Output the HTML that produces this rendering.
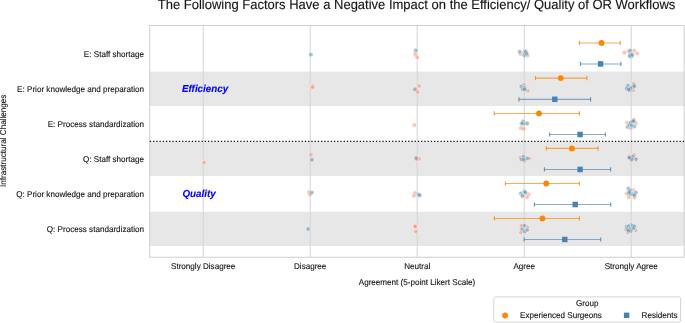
<!DOCTYPE html><html><head><meta charset="utf-8"><style>html,body{margin:0;padding:0;background:#fff;}svg{display:block;will-change:transform;}text{font-family:"Liberation Sans",sans-serif;text-rendering:geometricPrecision;font-variant-ligatures:none;}</style></head><body>
<svg width="685" height="323" viewBox="0 0 685 323">
<rect x="0" y="0" width="685" height="323" fill="#fff"/>
<rect x="149.5" y="71.6" width="535" height="34.40" fill="#e7e7e7"/>
<rect x="149.5" y="141.7" width="535" height="34.30" fill="#e7e7e7"/>
<rect x="149.5" y="211.8" width="535" height="34.20" fill="#e7e7e7"/>
<line x1="203.2" y1="25.4" x2="203.2" y2="257.2" stroke="#d4d4d4" stroke-width="1"/>
<line x1="310.2" y1="25.4" x2="310.2" y2="257.2" stroke="#d4d4d4" stroke-width="1"/>
<line x1="417.2" y1="25.4" x2="417.2" y2="257.2" stroke="#d4d4d4" stroke-width="1"/>
<line x1="524.2" y1="25.4" x2="524.2" y2="257.2" stroke="#d4d4d4" stroke-width="1"/>
<line x1="631.2" y1="25.4" x2="631.2" y2="257.2" stroke="#d4d4d4" stroke-width="1"/>
<path d="M149.7 25.4 H684.2 V257.2 H149.7 Z" fill="none" stroke="#d0d0d0" stroke-width="1.05"/>
<line x1="149.8" y1="141.45" x2="685" y2="141.45" stroke="#111" stroke-width="1.3" stroke-dasharray="1.3 1.93"/>
<circle cx="415.2" cy="54.3" r="2.2" fill="rgba(255,125,80,0.45)" stroke="#fff" stroke-width="0.5" stroke-opacity="0.85"/>
<circle cx="417.1" cy="57.3" r="2.2" fill="rgba(255,125,80,0.45)" stroke="#fff" stroke-width="0.5" stroke-opacity="0.85"/>
<circle cx="520.5" cy="54.0" r="2.2" fill="rgba(255,125,80,0.45)" stroke="#fff" stroke-width="0.5" stroke-opacity="0.85"/>
<circle cx="524.8" cy="50.9" r="2.2" fill="rgba(255,125,80,0.45)" stroke="#fff" stroke-width="0.5" stroke-opacity="0.85"/>
<circle cx="527.6" cy="55.6" r="2.2" fill="rgba(255,125,80,0.45)" stroke="#fff" stroke-width="0.5" stroke-opacity="0.85"/>
<circle cx="624.4" cy="52.6" r="2.2" fill="rgba(255,125,80,0.45)" stroke="#fff" stroke-width="0.5" stroke-opacity="0.85"/>
<circle cx="637.2" cy="53.4" r="2.2" fill="rgba(255,125,80,0.45)" stroke="#fff" stroke-width="0.5" stroke-opacity="0.85"/>
<circle cx="628.3" cy="51.1" r="2.2" fill="rgba(255,125,80,0.45)" stroke="#fff" stroke-width="0.5" stroke-opacity="0.85"/>
<circle cx="634.1" cy="50.7" r="2.2" fill="rgba(255,125,80,0.45)" stroke="#fff" stroke-width="0.5" stroke-opacity="0.85"/>
<circle cx="312.9" cy="86.0" r="2.2" fill="rgba(255,125,80,0.45)" stroke="#fff" stroke-width="0.5" stroke-opacity="0.85"/>
<circle cx="312.4" cy="87.4" r="2.2" fill="rgba(255,125,80,0.45)" stroke="#fff" stroke-width="0.5" stroke-opacity="0.85"/>
<circle cx="419.2" cy="86.0" r="2.2" fill="rgba(255,125,80,0.45)" stroke="#fff" stroke-width="0.5" stroke-opacity="0.85"/>
<circle cx="417.7" cy="92.0" r="2.2" fill="rgba(255,125,80,0.45)" stroke="#fff" stroke-width="0.5" stroke-opacity="0.85"/>
<circle cx="524.0" cy="84.6" r="2.2" fill="rgba(255,125,80,0.45)" stroke="#fff" stroke-width="0.5" stroke-opacity="0.85"/>
<circle cx="527.9" cy="90.7" r="2.2" fill="rgba(255,125,80,0.45)" stroke="#fff" stroke-width="0.5" stroke-opacity="0.85"/>
<circle cx="633.7" cy="83.7" r="2.2" fill="rgba(255,125,80,0.45)" stroke="#fff" stroke-width="0.5" stroke-opacity="0.85"/>
<circle cx="633.3" cy="90.3" r="2.2" fill="rgba(255,125,80,0.45)" stroke="#fff" stroke-width="0.5" stroke-opacity="0.85"/>
<circle cx="414.4" cy="125.0" r="2.2" fill="rgba(255,125,80,0.45)" stroke="#fff" stroke-width="0.5" stroke-opacity="0.85"/>
<circle cx="520.9" cy="128.0" r="2.2" fill="rgba(255,125,80,0.45)" stroke="#fff" stroke-width="0.5" stroke-opacity="0.85"/>
<circle cx="523.6" cy="128.8" r="2.2" fill="rgba(255,125,80,0.45)" stroke="#fff" stroke-width="0.5" stroke-opacity="0.85"/>
<circle cx="627.0" cy="122.6" r="2.2" fill="rgba(255,125,80,0.45)" stroke="#fff" stroke-width="0.5" stroke-opacity="0.85"/>
<circle cx="633.8" cy="119.8" r="2.2" fill="rgba(255,125,80,0.45)" stroke="#fff" stroke-width="0.5" stroke-opacity="0.85"/>
<circle cx="635.8" cy="123.2" r="2.2" fill="rgba(255,125,80,0.45)" stroke="#fff" stroke-width="0.5" stroke-opacity="0.85"/>
<circle cx="630.7" cy="128.2" r="2.2" fill="rgba(255,125,80,0.45)" stroke="#fff" stroke-width="0.5" stroke-opacity="0.85"/>
<circle cx="204.2" cy="162.5" r="2.2" fill="rgba(255,125,80,0.45)" stroke="#fff" stroke-width="0.5" stroke-opacity="0.85"/>
<circle cx="311.0" cy="154.7" r="2.2" fill="rgba(255,125,80,0.45)" stroke="#fff" stroke-width="0.5" stroke-opacity="0.85"/>
<circle cx="419.3" cy="158.8" r="2.2" fill="rgba(255,125,80,0.45)" stroke="#fff" stroke-width="0.5" stroke-opacity="0.85"/>
<circle cx="416.6" cy="159.5" r="2.2" fill="rgba(255,125,80,0.45)" stroke="#fff" stroke-width="0.5" stroke-opacity="0.85"/>
<circle cx="520.3" cy="157.6" r="2.2" fill="rgba(255,125,80,0.45)" stroke="#fff" stroke-width="0.5" stroke-opacity="0.85"/>
<circle cx="529.4" cy="158.6" r="2.2" fill="rgba(255,125,80,0.45)" stroke="#fff" stroke-width="0.5" stroke-opacity="0.85"/>
<circle cx="524.6" cy="161.0" r="2.2" fill="rgba(255,125,80,0.45)" stroke="#fff" stroke-width="0.5" stroke-opacity="0.85"/>
<circle cx="629.2" cy="156.3" r="2.2" fill="rgba(255,125,80,0.45)" stroke="#fff" stroke-width="0.5" stroke-opacity="0.85"/>
<circle cx="634.0" cy="155.0" r="2.2" fill="rgba(255,125,80,0.45)" stroke="#fff" stroke-width="0.5" stroke-opacity="0.85"/>
<circle cx="631.0" cy="160.5" r="2.2" fill="rgba(255,125,80,0.45)" stroke="#fff" stroke-width="0.5" stroke-opacity="0.85"/>
<circle cx="204.5" cy="191.8" r="2.2" fill="rgba(255,125,80,0.45)" stroke="#fff" stroke-width="0.5" stroke-opacity="0.85"/>
<circle cx="309.2" cy="192.2" r="2.2" fill="rgba(255,125,80,0.45)" stroke="#fff" stroke-width="0.5" stroke-opacity="0.85"/>
<circle cx="310.0" cy="194.5" r="2.2" fill="rgba(255,125,80,0.45)" stroke="#fff" stroke-width="0.5" stroke-opacity="0.85"/>
<circle cx="415.1" cy="193.0" r="2.2" fill="rgba(255,125,80,0.45)" stroke="#fff" stroke-width="0.5" stroke-opacity="0.85"/>
<circle cx="413.9" cy="195.7" r="2.2" fill="rgba(255,125,80,0.45)" stroke="#fff" stroke-width="0.5" stroke-opacity="0.85"/>
<circle cx="528.6" cy="194.5" r="2.2" fill="rgba(255,125,80,0.45)" stroke="#fff" stroke-width="0.5" stroke-opacity="0.85"/>
<circle cx="527.1" cy="197.3" r="2.2" fill="rgba(255,125,80,0.45)" stroke="#fff" stroke-width="0.5" stroke-opacity="0.85"/>
<circle cx="523.6" cy="194.9" r="2.2" fill="rgba(255,125,80,0.45)" stroke="#fff" stroke-width="0.5" stroke-opacity="0.85"/>
<circle cx="626.7" cy="193.4" r="2.2" fill="rgba(255,125,80,0.45)" stroke="#fff" stroke-width="0.5" stroke-opacity="0.85"/>
<circle cx="633.3" cy="190.3" r="2.2" fill="rgba(255,125,80,0.45)" stroke="#fff" stroke-width="0.5" stroke-opacity="0.85"/>
<circle cx="628.7" cy="197.3" r="2.2" fill="rgba(255,125,80,0.45)" stroke="#fff" stroke-width="0.5" stroke-opacity="0.85"/>
<circle cx="634.5" cy="197.6" r="2.2" fill="rgba(255,125,80,0.45)" stroke="#fff" stroke-width="0.5" stroke-opacity="0.85"/>
<circle cx="415.1" cy="226.4" r="2.2" fill="rgba(255,125,80,0.45)" stroke="#fff" stroke-width="0.5" stroke-opacity="0.85"/>
<circle cx="415.1" cy="226.4" r="2.2" fill="rgba(255,125,80,0.45)" stroke="#fff" stroke-width="0.5" stroke-opacity="0.85"/>
<circle cx="415.8" cy="231.5" r="2.2" fill="rgba(255,125,80,0.45)" stroke="#fff" stroke-width="0.5" stroke-opacity="0.85"/>
<circle cx="521.3" cy="225.7" r="2.2" fill="rgba(255,125,80,0.45)" stroke="#fff" stroke-width="0.5" stroke-opacity="0.85"/>
<circle cx="520.9" cy="232.6" r="2.2" fill="rgba(255,125,80,0.45)" stroke="#fff" stroke-width="0.5" stroke-opacity="0.85"/>
<circle cx="527.5" cy="227.2" r="2.2" fill="rgba(255,125,80,0.45)" stroke="#fff" stroke-width="0.5" stroke-opacity="0.85"/>
<circle cx="631.0" cy="224.7" r="2.2" fill="rgba(255,125,80,0.45)" stroke="#fff" stroke-width="0.5" stroke-opacity="0.85"/>
<circle cx="635.8" cy="230.5" r="2.2" fill="rgba(255,125,80,0.45)" stroke="#fff" stroke-width="0.5" stroke-opacity="0.85"/>
<circle cx="627.8" cy="232.8" r="2.2" fill="rgba(255,125,80,0.45)" stroke="#fff" stroke-width="0.5" stroke-opacity="0.85"/>
<circle cx="625.9" cy="229.6" r="2.2" fill="rgba(255,125,80,0.45)" stroke="#fff" stroke-width="0.5" stroke-opacity="0.85"/>
<circle cx="310.9" cy="54.6" r="2.2" fill="rgba(62,130,165,0.47)" stroke="#fff" stroke-width="0.5" stroke-opacity="0.85"/>
<circle cx="415.7" cy="50.5" r="2.2" fill="rgba(62,130,165,0.47)" stroke="#fff" stroke-width="0.5" stroke-opacity="0.85"/>
<circle cx="519.7" cy="51.8" r="2.2" fill="rgba(62,130,165,0.47)" stroke="#fff" stroke-width="0.5" stroke-opacity="0.85"/>
<circle cx="524.4" cy="52.6" r="2.2" fill="rgba(62,130,165,0.47)" stroke="#fff" stroke-width="0.5" stroke-opacity="0.85"/>
<circle cx="525.9" cy="51.8" r="2.2" fill="rgba(62,130,165,0.47)" stroke="#fff" stroke-width="0.5" stroke-opacity="0.85"/>
<circle cx="524.4" cy="55.3" r="2.2" fill="rgba(62,130,165,0.47)" stroke="#fff" stroke-width="0.5" stroke-opacity="0.85"/>
<circle cx="526.7" cy="53.8" r="2.2" fill="rgba(62,130,165,0.47)" stroke="#fff" stroke-width="0.5" stroke-opacity="0.85"/>
<circle cx="630.2" cy="50.5" r="2.2" fill="rgba(62,130,165,0.47)" stroke="#fff" stroke-width="0.5" stroke-opacity="0.85"/>
<circle cx="630.4" cy="54.3" r="2.2" fill="rgba(62,130,165,0.47)" stroke="#fff" stroke-width="0.5" stroke-opacity="0.85"/>
<circle cx="631.6" cy="56.3" r="2.2" fill="rgba(62,130,165,0.47)" stroke="#fff" stroke-width="0.5" stroke-opacity="0.85"/>
<circle cx="629.6" cy="56.0" r="2.2" fill="rgba(62,130,165,0.47)" stroke="#fff" stroke-width="0.5" stroke-opacity="0.85"/>
<circle cx="632.3" cy="54.8" r="2.2" fill="rgba(62,130,165,0.47)" stroke="#fff" stroke-width="0.5" stroke-opacity="0.85"/>
<circle cx="415.0" cy="89.3" r="2.2" fill="rgba(150,162,172,0.8)" stroke="#fff" stroke-width="0.5" stroke-opacity="0.85"/>
<circle cx="521.3" cy="86.4" r="2.2" fill="rgba(62,130,165,0.47)" stroke="#fff" stroke-width="0.5" stroke-opacity="0.85"/>
<circle cx="524.4" cy="87.6" r="2.2" fill="rgba(62,130,165,0.47)" stroke="#fff" stroke-width="0.5" stroke-opacity="0.85"/>
<circle cx="522.8" cy="89.2" r="2.2" fill="rgba(62,130,165,0.47)" stroke="#fff" stroke-width="0.5" stroke-opacity="0.85"/>
<circle cx="524.8" cy="89.5" r="2.2" fill="rgba(62,130,165,0.47)" stroke="#fff" stroke-width="0.5" stroke-opacity="0.85"/>
<circle cx="627.9" cy="85.7" r="2.2" fill="rgba(62,130,165,0.47)" stroke="#fff" stroke-width="0.5" stroke-opacity="0.85"/>
<circle cx="626.7" cy="88.4" r="2.2" fill="rgba(62,130,165,0.47)" stroke="#fff" stroke-width="0.5" stroke-opacity="0.85"/>
<circle cx="629.8" cy="90.3" r="2.2" fill="rgba(62,130,165,0.47)" stroke="#fff" stroke-width="0.5" stroke-opacity="0.85"/>
<circle cx="632.9" cy="86.8" r="2.2" fill="rgba(62,130,165,0.47)" stroke="#fff" stroke-width="0.5" stroke-opacity="0.85"/>
<circle cx="634.5" cy="86.0" r="2.2" fill="rgba(62,130,165,0.47)" stroke="#fff" stroke-width="0.5" stroke-opacity="0.85"/>
<circle cx="630.5" cy="88.2" r="2.2" fill="rgba(62,130,165,0.47)" stroke="#fff" stroke-width="0.5" stroke-opacity="0.85"/>
<circle cx="628.5" cy="89.5" r="2.2" fill="rgba(62,130,165,0.47)" stroke="#fff" stroke-width="0.5" stroke-opacity="0.85"/>
<circle cx="523.2" cy="121.4" r="2.2" fill="rgba(62,130,165,0.47)" stroke="#fff" stroke-width="0.5" stroke-opacity="0.85"/>
<circle cx="523.6" cy="123.8" r="2.2" fill="rgba(62,130,165,0.47)" stroke="#fff" stroke-width="0.5" stroke-opacity="0.85"/>
<circle cx="521.7" cy="123.4" r="2.2" fill="rgba(62,130,165,0.47)" stroke="#fff" stroke-width="0.5" stroke-opacity="0.85"/>
<circle cx="527.1" cy="123.4" r="2.2" fill="rgba(150,162,172,0.8)" stroke="#fff" stroke-width="0.5" stroke-opacity="0.85"/>
<circle cx="627.5" cy="126.9" r="2.2" fill="rgba(62,130,165,0.47)" stroke="#fff" stroke-width="0.5" stroke-opacity="0.85"/>
<circle cx="629.2" cy="124.6" r="2.2" fill="rgba(62,130,165,0.47)" stroke="#fff" stroke-width="0.5" stroke-opacity="0.85"/>
<circle cx="630.6" cy="122.8" r="2.2" fill="rgba(62,130,165,0.47)" stroke="#fff" stroke-width="0.5" stroke-opacity="0.85"/>
<circle cx="632.4" cy="121.5" r="2.2" fill="rgba(62,130,165,0.47)" stroke="#fff" stroke-width="0.5" stroke-opacity="0.85"/>
<circle cx="633.8" cy="121.0" r="2.2" fill="rgba(62,130,165,0.47)" stroke="#fff" stroke-width="0.5" stroke-opacity="0.85"/>
<circle cx="634.4" cy="126.4" r="2.2" fill="rgba(62,130,165,0.47)" stroke="#fff" stroke-width="0.5" stroke-opacity="0.85"/>
<circle cx="631.5" cy="125.5" r="2.2" fill="rgba(62,130,165,0.47)" stroke="#fff" stroke-width="0.5" stroke-opacity="0.85"/>
<circle cx="311.9" cy="159.8" r="2.2" fill="rgba(62,130,165,0.47)" stroke="#fff" stroke-width="0.5" stroke-opacity="0.85"/>
<circle cx="416.2" cy="158.0" r="2.2" fill="rgba(62,130,165,0.47)" stroke="#fff" stroke-width="0.5" stroke-opacity="0.85"/>
<circle cx="523.4" cy="156.7" r="2.2" fill="rgba(62,130,165,0.47)" stroke="#fff" stroke-width="0.5" stroke-opacity="0.85"/>
<circle cx="527.1" cy="158.4" r="2.2" fill="rgba(62,130,165,0.47)" stroke="#fff" stroke-width="0.5" stroke-opacity="0.85"/>
<circle cx="521.5" cy="159.6" r="2.2" fill="rgba(62,130,165,0.47)" stroke="#fff" stroke-width="0.5" stroke-opacity="0.85"/>
<circle cx="523.6" cy="159.4" r="2.2" fill="rgba(62,130,165,0.47)" stroke="#fff" stroke-width="0.5" stroke-opacity="0.85"/>
<circle cx="630.0" cy="158.0" r="2.2" fill="rgba(62,130,165,0.47)" stroke="#fff" stroke-width="0.5" stroke-opacity="0.85"/>
<circle cx="632.8" cy="156.8" r="2.2" fill="rgba(62,130,165,0.47)" stroke="#fff" stroke-width="0.5" stroke-opacity="0.85"/>
<circle cx="631.8" cy="159.2" r="2.2" fill="rgba(62,130,165,0.47)" stroke="#fff" stroke-width="0.5" stroke-opacity="0.85"/>
<circle cx="629.2" cy="157.6" r="2.2" fill="rgba(62,130,165,0.47)" stroke="#fff" stroke-width="0.5" stroke-opacity="0.85"/>
<circle cx="635.9" cy="159.2" r="2.2" fill="rgba(150,162,172,0.8)" stroke="#fff" stroke-width="0.5" stroke-opacity="0.85"/>
<circle cx="311.9" cy="192.6" r="2.2" fill="rgba(62,130,165,0.47)" stroke="#fff" stroke-width="0.5" stroke-opacity="0.85"/>
<circle cx="418.5" cy="194.5" r="2.2" fill="rgba(62,130,165,0.47)" stroke="#fff" stroke-width="0.5" stroke-opacity="0.85"/>
<circle cx="419.7" cy="195.3" r="2.2" fill="rgba(62,130,165,0.47)" stroke="#fff" stroke-width="0.5" stroke-opacity="0.85"/>
<circle cx="520.9" cy="193.4" r="2.2" fill="rgba(62,130,165,0.47)" stroke="#fff" stroke-width="0.5" stroke-opacity="0.85"/>
<circle cx="524.4" cy="191.4" r="2.2" fill="rgba(62,130,165,0.47)" stroke="#fff" stroke-width="0.5" stroke-opacity="0.85"/>
<circle cx="525.5" cy="192.6" r="2.2" fill="rgba(62,130,165,0.47)" stroke="#fff" stroke-width="0.5" stroke-opacity="0.85"/>
<circle cx="522.4" cy="196.1" r="2.2" fill="rgba(62,130,165,0.47)" stroke="#fff" stroke-width="0.5" stroke-opacity="0.85"/>
<circle cx="628.3" cy="188.4" r="2.2" fill="rgba(62,130,165,0.47)" stroke="#fff" stroke-width="0.5" stroke-opacity="0.85"/>
<circle cx="630.0" cy="190.3" r="2.2" fill="rgba(62,130,165,0.47)" stroke="#fff" stroke-width="0.5" stroke-opacity="0.85"/>
<circle cx="628.8" cy="193.4" r="2.2" fill="rgba(62,130,165,0.47)" stroke="#fff" stroke-width="0.5" stroke-opacity="0.85"/>
<circle cx="630.6" cy="194.2" r="2.2" fill="rgba(62,130,165,0.47)" stroke="#fff" stroke-width="0.5" stroke-opacity="0.85"/>
<circle cx="629.4" cy="192.0" r="2.2" fill="rgba(62,130,165,0.47)" stroke="#fff" stroke-width="0.5" stroke-opacity="0.85"/>
<circle cx="633.2" cy="194.1" r="2.2" fill="rgba(62,130,165,0.47)" stroke="#fff" stroke-width="0.5" stroke-opacity="0.85"/>
<circle cx="636.0" cy="192.6" r="2.2" fill="rgba(62,130,165,0.47)" stroke="#fff" stroke-width="0.5" stroke-opacity="0.85"/>
<circle cx="634.5" cy="195.3" r="2.2" fill="rgba(62,130,165,0.47)" stroke="#fff" stroke-width="0.5" stroke-opacity="0.85"/>
<circle cx="308.1" cy="229.0" r="2.2" fill="rgba(62,130,165,0.47)" stroke="#fff" stroke-width="0.5" stroke-opacity="0.85"/>
<circle cx="524.4" cy="225.7" r="2.2" fill="rgba(62,130,165,0.47)" stroke="#fff" stroke-width="0.5" stroke-opacity="0.85"/>
<circle cx="522.1" cy="229.2" r="2.2" fill="rgba(62,130,165,0.47)" stroke="#fff" stroke-width="0.5" stroke-opacity="0.85"/>
<circle cx="524.8" cy="231.5" r="2.2" fill="rgba(62,130,165,0.47)" stroke="#fff" stroke-width="0.5" stroke-opacity="0.85"/>
<circle cx="527.1" cy="229.9" r="2.2" fill="rgba(150,162,172,0.8)" stroke="#fff" stroke-width="0.5" stroke-opacity="0.85"/>
<circle cx="626.6" cy="226.8" r="2.2" fill="rgba(62,130,165,0.47)" stroke="#fff" stroke-width="0.5" stroke-opacity="0.85"/>
<circle cx="628.6" cy="226.1" r="2.2" fill="rgba(62,130,165,0.47)" stroke="#fff" stroke-width="0.5" stroke-opacity="0.85"/>
<circle cx="632.6" cy="225.9" r="2.2" fill="rgba(62,130,165,0.47)" stroke="#fff" stroke-width="0.5" stroke-opacity="0.85"/>
<circle cx="634.4" cy="226.4" r="2.2" fill="rgba(62,130,165,0.47)" stroke="#fff" stroke-width="0.5" stroke-opacity="0.85"/>
<circle cx="627.6" cy="229.0" r="2.2" fill="rgba(62,130,165,0.47)" stroke="#fff" stroke-width="0.5" stroke-opacity="0.85"/>
<circle cx="630.3" cy="228.8" r="2.2" fill="rgba(62,130,165,0.47)" stroke="#fff" stroke-width="0.5" stroke-opacity="0.85"/>
<circle cx="633.4" cy="228.6" r="2.2" fill="rgba(62,130,165,0.47)" stroke="#fff" stroke-width="0.5" stroke-opacity="0.85"/>
<circle cx="630.8" cy="231.1" r="2.2" fill="rgba(62,130,165,0.47)" stroke="#fff" stroke-width="0.5" stroke-opacity="0.85"/>
<circle cx="628.3" cy="230.7" r="2.2" fill="rgba(62,130,165,0.47)" stroke="#fff" stroke-width="0.5" stroke-opacity="0.85"/>
<line x1="579.4" y1="42.95" x2="620.2" y2="42.95" stroke="#ff8505" stroke-opacity="0.7" stroke-width="1.15"/>
<line x1="579.4" y1="40.85" x2="579.4" y2="45.05" stroke="#ff8505" stroke-opacity="0.85" stroke-width="1.1"/>
<line x1="620.2" y1="40.85" x2="620.2" y2="45.05" stroke="#ff8505" stroke-opacity="0.85" stroke-width="1.1"/>
<circle cx="601.5" cy="42.95" r="2.9" fill="#ff8505"/>
<line x1="535.5" y1="78.1" x2="586.9" y2="78.1" stroke="#ff8505" stroke-opacity="0.7" stroke-width="1.15"/>
<line x1="535.5" y1="76.00" x2="535.5" y2="80.20" stroke="#ff8505" stroke-opacity="0.85" stroke-width="1.1"/>
<line x1="586.9" y1="76.00" x2="586.9" y2="80.20" stroke="#ff8505" stroke-opacity="0.85" stroke-width="1.1"/>
<circle cx="560.8" cy="78.1" r="2.9" fill="#ff8505"/>
<line x1="494.2" y1="113.45" x2="579.4" y2="113.45" stroke="#ff8505" stroke-opacity="0.7" stroke-width="1.15"/>
<line x1="494.2" y1="111.35" x2="494.2" y2="115.55" stroke="#ff8505" stroke-opacity="0.85" stroke-width="1.1"/>
<line x1="579.4" y1="111.35" x2="579.4" y2="115.55" stroke="#ff8505" stroke-opacity="0.85" stroke-width="1.1"/>
<circle cx="539.0" cy="113.45" r="2.9" fill="#ff8505"/>
<line x1="546.3" y1="148.4" x2="598.1" y2="148.4" stroke="#ff8505" stroke-opacity="0.7" stroke-width="1.15"/>
<line x1="546.3" y1="146.30" x2="546.3" y2="150.50" stroke="#ff8505" stroke-opacity="0.85" stroke-width="1.1"/>
<line x1="598.1" y1="146.30" x2="598.1" y2="150.50" stroke="#ff8505" stroke-opacity="0.85" stroke-width="1.1"/>
<circle cx="571.9" cy="148.4" r="2.9" fill="#ff8505"/>
<line x1="505.4" y1="183.5" x2="579.4" y2="183.5" stroke="#ff8505" stroke-opacity="0.7" stroke-width="1.15"/>
<line x1="505.4" y1="181.40" x2="505.4" y2="185.60" stroke="#ff8505" stroke-opacity="0.85" stroke-width="1.1"/>
<line x1="579.4" y1="181.40" x2="579.4" y2="185.60" stroke="#ff8505" stroke-opacity="0.85" stroke-width="1.1"/>
<circle cx="546.2" cy="183.5" r="2.9" fill="#ff8505"/>
<line x1="494.4" y1="218.45" x2="579.4" y2="218.45" stroke="#ff8505" stroke-opacity="0.7" stroke-width="1.15"/>
<line x1="494.4" y1="216.35" x2="494.4" y2="220.55" stroke="#ff8505" stroke-opacity="0.85" stroke-width="1.1"/>
<line x1="579.4" y1="216.35" x2="579.4" y2="220.55" stroke="#ff8505" stroke-opacity="0.85" stroke-width="1.1"/>
<circle cx="542.4" cy="218.45" r="2.9" fill="#ff8505"/>
<line x1="580.4" y1="63.95" x2="620.9" y2="63.95" stroke="#4682b4" stroke-opacity="0.65" stroke-width="1.15"/>
<line x1="580.4" y1="61.85" x2="580.4" y2="66.05" stroke="#4682b4" stroke-opacity="0.85" stroke-width="1.1"/>
<line x1="620.9" y1="61.85" x2="620.9" y2="66.05" stroke="#4682b4" stroke-opacity="0.85" stroke-width="1.1"/>
<rect x="597.90" y="61.20" width="5.4" height="5.5" fill="#4682b4"/>
<line x1="519.0" y1="99.3" x2="590.6" y2="99.3" stroke="#4682b4" stroke-opacity="0.65" stroke-width="1.15"/>
<line x1="519.0" y1="97.20" x2="519.0" y2="101.40" stroke="#4682b4" stroke-opacity="0.85" stroke-width="1.1"/>
<line x1="590.6" y1="97.20" x2="590.6" y2="101.40" stroke="#4682b4" stroke-opacity="0.85" stroke-width="1.1"/>
<rect x="552.10" y="96.55" width="5.4" height="5.5" fill="#4682b4"/>
<line x1="549.6" y1="134.5" x2="605.4" y2="134.5" stroke="#4682b4" stroke-opacity="0.65" stroke-width="1.15"/>
<line x1="549.6" y1="132.40" x2="549.6" y2="136.60" stroke="#4682b4" stroke-opacity="0.85" stroke-width="1.1"/>
<line x1="605.4" y1="132.40" x2="605.4" y2="136.60" stroke="#4682b4" stroke-opacity="0.85" stroke-width="1.1"/>
<rect x="577.40" y="131.75" width="5.4" height="5.5" fill="#4682b4"/>
<line x1="544.4" y1="169.45" x2="610.6" y2="169.45" stroke="#4682b4" stroke-opacity="0.65" stroke-width="1.15"/>
<line x1="544.4" y1="167.35" x2="544.4" y2="171.55" stroke="#4682b4" stroke-opacity="0.85" stroke-width="1.1"/>
<line x1="610.6" y1="167.35" x2="610.6" y2="171.55" stroke="#4682b4" stroke-opacity="0.85" stroke-width="1.1"/>
<rect x="577.40" y="166.70" width="5.4" height="5.5" fill="#4682b4"/>
<line x1="534.4" y1="204.5" x2="610.7" y2="204.5" stroke="#4682b4" stroke-opacity="0.65" stroke-width="1.15"/>
<line x1="534.4" y1="202.40" x2="534.4" y2="206.60" stroke="#4682b4" stroke-opacity="0.85" stroke-width="1.1"/>
<line x1="610.7" y1="202.40" x2="610.7" y2="206.60" stroke="#4682b4" stroke-opacity="0.85" stroke-width="1.1"/>
<rect x="572.50" y="201.75" width="5.4" height="5.5" fill="#4682b4"/>
<line x1="524.2" y1="239.5" x2="600.7" y2="239.5" stroke="#4682b4" stroke-opacity="0.65" stroke-width="1.15"/>
<line x1="524.2" y1="237.40" x2="524.2" y2="241.60" stroke="#4682b4" stroke-opacity="0.85" stroke-width="1.1"/>
<line x1="600.7" y1="237.40" x2="600.7" y2="241.60" stroke="#4682b4" stroke-opacity="0.85" stroke-width="1.1"/>
<rect x="562.10" y="236.75" width="5.4" height="5.5" fill="#4682b4"/>
<text x="182" y="91.7" font-size="9.8" fill="#0000ff" stroke="#0000ff" stroke-width="0.12" font-weight="bold" font-style="italic" transform="matrix(1 0 0 1.04 0 -3.668)">Efficiency</text>
<text x="182.5" y="197.4" font-size="9.8" fill="#0000ff" stroke="#0000ff" stroke-width="0.12" font-weight="bold" font-style="italic" transform="matrix(1 0 0 1.04 0 -7.896)">Quality</text>
<text x="144" y="56.9" font-size="8.1" text-anchor="end" fill="#151515" stroke="#151515" stroke-width="0.12" transform="matrix(1 0 0 1.04 0 -2.276)">E: Staff shortage</text>
<text x="144" y="91.95" font-size="8.1" text-anchor="end" fill="#151515" stroke="#151515" stroke-width="0.12" transform="matrix(1 0 0 1.04 0 -3.678)">E: Prior knowledge and preparation</text>
<text x="144" y="127.0" font-size="8.1" text-anchor="end" fill="#151515" stroke="#151515" stroke-width="0.12" transform="matrix(1 0 0 1.04 0 -5.080)">E: Process standardization</text>
<text x="144" y="162.05" font-size="8.1" text-anchor="end" fill="#151515" stroke="#151515" stroke-width="0.12" transform="matrix(1 0 0 1.04 0 -6.482)">Q: Staff shortage</text>
<text x="144" y="197.1" font-size="8.1" text-anchor="end" fill="#151515" stroke="#151515" stroke-width="0.12" transform="matrix(1 0 0 1.04 0 -7.884)">Q: Prior knowledge and preparation</text>
<text x="144" y="232.15" font-size="8.1" text-anchor="end" fill="#151515" stroke="#151515" stroke-width="0.12" transform="matrix(1 0 0 1.04 0 -9.286)">Q: Process standardization</text>
<text x="203.2" y="268.9" font-size="8.1" text-anchor="middle" fill="#151515" stroke="#151515" stroke-width="0.12" transform="matrix(1 0 0 1.04 0 -10.756)">Strongly Disagree</text>
<text x="310.2" y="268.9" font-size="8.1" text-anchor="middle" fill="#151515" stroke="#151515" stroke-width="0.12" transform="matrix(1 0 0 1.04 0 -10.756)">Disagree</text>
<text x="417.2" y="268.9" font-size="8.1" text-anchor="middle" fill="#151515" stroke="#151515" stroke-width="0.12" transform="matrix(1 0 0 1.04 0 -10.756)">Neutral</text>
<text x="524.2" y="268.9" font-size="8.1" text-anchor="middle" fill="#151515" stroke="#151515" stroke-width="0.12" transform="matrix(1 0 0 1.04 0 -10.756)">Agree</text>
<text x="631.2" y="268.9" font-size="8.1" text-anchor="middle" fill="#151515" stroke="#151515" stroke-width="0.12" transform="matrix(1 0 0 1.04 0 -10.756)">Strongly Agree</text>
<text x="417" y="284.8" font-size="8.1" text-anchor="middle" fill="#151515" stroke="#151515" stroke-width="0.12" transform="matrix(1 0 0 1.04 0 -11.392)">Agreement (5-point Likert Scale)</text>
<text transform="translate(6.3,140.8) rotate(-90) scale(1 1.04)" x="0" y="0" font-size="8.1" text-anchor="middle" fill="#151515" stroke="#151515" stroke-width="0.12">Infrastructural Challenges</text>
<text x="416.5" y="9" font-size="13" text-anchor="middle" fill="#151515" stroke="#151515" stroke-width="0.12" transform="matrix(1 0 0 1.04 0 -0.360)">The Following Factors Have a Negative Impact on the Efficiency/ Quality of OR Workflows</text>
<rect x="493.8" y="296.9" width="186.8" height="25.1" rx="2" ry="2" fill="#fff" fill-opacity="0.8" stroke="#d6d6d6" stroke-width="1"/>
<text x="587.2" y="305.8" font-size="8.1" text-anchor="middle" fill="#151515" stroke="#151515" stroke-width="0.12" transform="matrix(1 0 0 1.04 0 -12.232)">Group</text>
<circle cx="505.1" cy="315.5" r="2.9" fill="#ff8505"/>
<text x="520" y="317.7" font-size="8.1" fill="#151515" stroke="#151515" stroke-width="0.12" transform="matrix(1 0 0 1.04 0 -12.708)">Experienced Surgeons</text>
<rect x="623.9" y="312.6" width="5.4" height="5.4" fill="#4682b4"/>
<text x="641.6" y="317.7" font-size="8.1" fill="#151515" stroke="#151515" stroke-width="0.12" transform="matrix(1 0 0 1.04 0 -12.708)">Residents</text>
</svg></body></html>
